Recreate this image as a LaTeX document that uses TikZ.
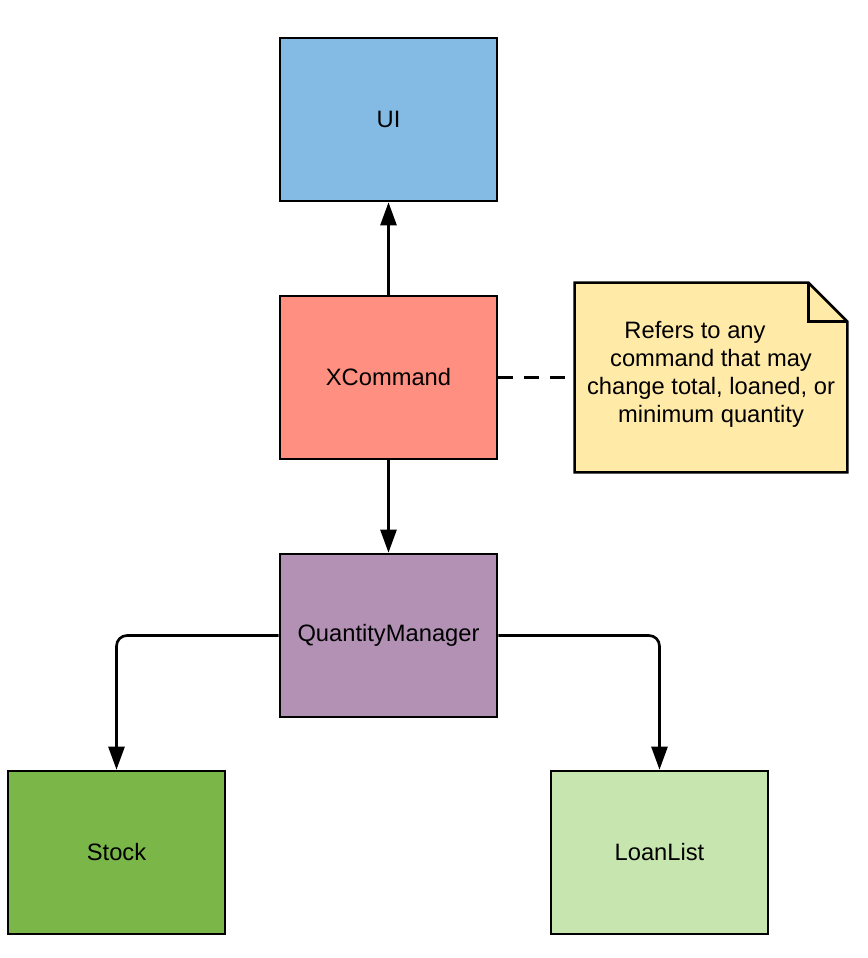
\documentclass[tikz,border=0pt]{standalone}
\usepackage{fontspec}
\setmainfont{Liberation Sans}
\usetikzlibrary{arrows.meta,positioning}

\definecolor{uiblue}{HTML}{83BBE5}
\definecolor{cmdred}{HTML}{FF8F80}
\definecolor{qmpurple}{HTML}{B391B5}
\definecolor{stockgreen}{HTML}{7AB648}
\definecolor{loangreen}{HTML}{C7E5AE}
\definecolor{noteyellow}{HTML}{FFEAA7}

\begin{document}
\begin{tikzpicture}[
    font=\fontsize{13.5}{16}\selectfont,
    >={Triangle[length=4.6mm,width=3.2mm]},
    comp/.style={draw, line width=1.5pt, minimum width=4.34cm, minimum height=3.26cm, inner sep=0pt},
    link/.style={->, line width=1.5pt},
    notelink/.style={line width=1.5pt, dash pattern=on 0.3cm off 0.22cm},
]
\useasboundingbox (0,0) rectangle (17.36,-19.16);

% ---- components ----
\node[comp, fill=uiblue] (ui) at (7.77,-2.39) {UI};
\node[comp, fill=cmdred] (xcmd) at (7.77,-7.55) {XCommand};
\node[comp, fill=qmpurple] (qm) at (7.77,-12.71) {QuantityManager};
\node[comp, fill=stockgreen] (stock) at (2.33,-17.05) {Stock};
\node[comp, fill=loangreen] (loan) at (13.19,-17.05) {LoanList};

% ---- note with folded corner ----
\node[minimum width=5.44cm, minimum height=3.78cm, align=center, inner sep=0pt] (note) at (14.22,-7.55) {};
\draw[line width=1.5pt, fill=noteyellow, line join=miter]
    (note.south west) -- (note.north west) -- ([xshift=-0.78cm]note.north east)
    -- ([yshift=-0.78cm]note.north east) -- (note.south east) -- cycle;
\draw[line width=1.5pt, line join=miter]
    ([xshift=-0.78cm]note.north east) -- ([xshift=-0.78cm,yshift=-0.78cm]note.north east)
    -- ([yshift=-0.78cm]note.north east);
\node[align=center, anchor=center] (notetext) at ([yshift=0.06cm]note.center)
    {Refers to any\hspace*{0.64cm}\\command that may\\change total, loaned, or\\minimum quantity};

% ---- connectors ----
\draw[link] (xcmd) -- (ui);
\draw[link] (xcmd) -- (qm);
\draw[link, rounded corners=6pt] (qm.west) -| (stock.north);
\draw[link, rounded corners=6pt] (qm.east) -| (loan.north);
\draw[notelink] (xcmd.east) -- (note.west);
\end{tikzpicture}
\end{document}
